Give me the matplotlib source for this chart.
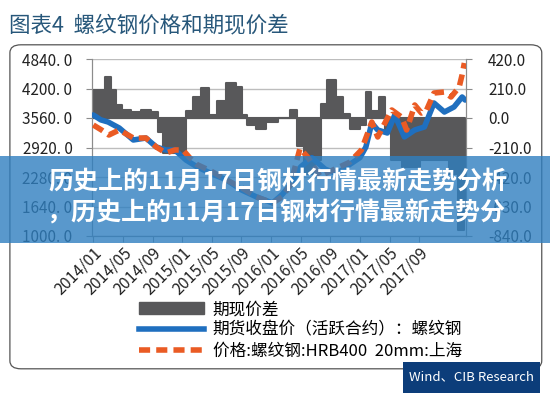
import matplotlib.pyplot as plt
from matplotlib.patches import Rectangle, FancyBboxPatch, Patch
from matplotlib.lines import Line2D

plt.rcParams['font.family'] = ['Noto Sans CJK SC', 'DejaVu Sans']

# x positions are months since 2014/01
tick_labels = ['2014/01', '2014/05', '2014/09', '2015/01', '2015/05', '2015/09',
               '2016/01', '2016/05', '2016/09', '2017/01', '2017/05', '2017/09']

# 期现价差 (right axis)
spread_m = [0, 1.1, 2.1, 2.7, 3.4, 4.4, 5.8, 7.1, 8.5, 8.9, 9.8, 11.8, 13.2, 13.8, 15.2,
            16.1, 17.4, 18.5, 19.9, 20.3, 21.2, 22.6, 23.9, 25.9, 27.2, 27.7, 29.3, 30.6,
            31.0, 32.2, 33.3, 34.0, 35.3, 36.6, 37.0, 38.0, 39.1, 39.7, 40.7, 42.7, 45.4,
            47.4, 48.7, 49.8, 50.2]
spread_v = [199, 200, 292, 200, 92, 60, 40, 60, 40, -100, -250, -250, 50, 150, 213,
            20, 120, 250, 220, 20, -50, -80, -30, 0, 57, -200, -400, -300,
            100, 270, 150, 30, -80, -50, 185, 50, 150, -100, -300, -350, -300,
            -300, -400, -800, -700]

# 期货收盘价(活跃合约):螺纹钢 (left axis)
fut_m = [0, 1, 2, 3.5, 5.4, 7.1, 8.5, 9.8, 11, 12.5, 14, 16, 18, 20, 22, 24.2, 25.5,
         26.6, 28, 29.5, 31.3, 32.9, 34.6, 36, 36.8, 37.6, 38.4, 39.7, 40.7, 42, 43.4,
         44.7, 46, 47.4, 48.7, 49.8, 50.2]
fut_v = [3625, 3520, 3473, 3343, 3083, 3126, 2931, 2866, 2866, 2650, 2500, 2350, 2215,
         2000, 1850, 1716, 1900, 2107, 2500, 2700, 2450, 2350, 2550, 2700, 2931, 3452,
         3300, 3235, 3625, 3148, 3300, 3365, 3885, 3690, 3799, 4016, 3950]

# 价格:螺纹钢:HRB400 20mm:上海 (left axis)
spot_m = [0, 1.1, 2.1, 3.5, 5.4, 7.1, 8.5, 9.8, 11, 12.1, 13, 14, 16, 18, 20, 22, 24.2,
          25.5, 26.6, 27.9, 29, 30.6, 32.6, 34.6, 36.2, 37.6, 38.4, 39.2, 40.3, 41.6,
          42.3, 43.4, 44.3, 45, 46, 47.4, 48.3, 49.4, 49.8, 50.1]
spot_v = [3408, 3300, 3191, 3300, 3126, 3126, 2931, 2800, 2866, 2866, 2700, 2550, 2400,
          2215, 2050, 1850, 1716, 1850, 2107, 2900, 2700, 2300, 2450, 2600, 2866, 3473,
          3148, 3400, 3734, 3582, 3300, 3842, 3668, 3734, 4102, 4124, 4016, 4233, 4500,
          4753]

left_ticks = [1000, 1640, 2280, 2920, 3560, 4200, 4840]
right_ticks = [-840, -630, -420, -210, 0, 210, 420]

fig = plt.figure(figsize=(5.5, 4), dpi=100)

# frame around the chart
frame = FancyBboxPatch((0.018, 0.078), 0.967, 0.81, boxstyle='round,pad=0,rounding_size=0.02',
                       transform=fig.transFigure, facecolor='none', edgecolor='#555555',
                       lw=0.9, zorder=-1)
fig.patches.append(frame)

fig.text(0.016, 0.937, '图表4  螺纹钢价格和期现价差', fontsize=15.5, color='#27577a',
         va='center', ha='left')

ax = fig.add_axes([0.167, 0.41, 0.68, 0.4425])
ax2 = ax.twinx()
ax.patch.set_alpha(0)

ax.fill_between(spread_m, 0, spread_v, step='mid', color='#58585a', lw=1.5,
                edgecolor='#58585a', zorder=2)
ax.set_ylim(-840, 420)
ax.set_yticks(right_ticks)
ax.set_yticklabels(['%.1f' % v for v in right_ticks])
ax.yaxis.tick_right()
ax.grid(axis='y', color='#bdbdbd', lw=1)
ax.set_axisbelow(True)

ax2.plot(fut_m, fut_v, color='#1f6fbf', lw=4, solid_capstyle='round', zorder=3)
ax2.plot(spot_m, spot_v, color='#ea5b24', lw=4, ls=(0, (2, 1.1)), zorder=4)
ax2.set_ylim(1000, 4840)
ax2.set_yticks(left_ticks)
ax2.set_yticklabels(['%d. 0' % v for v in left_ticks])
ax2.yaxis.tick_left()

ax.set_xlim(-0.2, 50.3)
ax.set_xticks(range(0, 48, 4))
ax.set_xticklabels(tick_labels, rotation=45, ha='right', rotation_mode='anchor')

for a in (ax, ax2):
    for s in a.spines.values():
        s.set_color('#8c8c8c')
    a.spines['top'].set_visible(False)
    a.tick_params(colors='#8c8c8c', labelcolor='#222222', labelsize=11, length=4)
ax.tick_params(axis='x', labelsize=11.5, pad=2)
ax.tick_params(axis='y', pad=12)
ax2.tick_params(axis='y', pad=10)

handles = [Patch(color='#58585a'),
           Line2D([], [], color='#1f6fbf', lw=4),
           Line2D([], [], color='#ea5b24', lw=4, ls=(0, (2, 1.1)))]
labels = ['期现价差', '期货收盘价（活跃合约）：螺纹钢', '价格:螺纹钢:HRB400  20mm:上海']
fig.legend(handles, labels, loc='upper left', bbox_to_anchor=(0.238, 0.268),
           frameon=False, fontsize=12, handlelength=3.9, handleheight=0.7,
           labelspacing=0.22, handletextpad=0.5, borderpad=0)

# source tag
fig.patches.append(Rectangle((0.733, 0.018), 0.249, 0.078, transform=fig.transFigure,
                             facecolor='#0c3d7a', edgecolor='none', zorder=5))
fig.text(0.857, 0.057, 'Wind、CIB Research', color='white', fontsize=9.5,
         ha='center', va='center', zorder=6)

# overlay banner
fig.patches.append(Rectangle((0, 0.3925), 1, 0.2175, transform=fig.transFigure,
                             facecolor='#2f7fc0', alpha=0.8, edgecolor='none', zorder=10))
fig.text(0.505, 0.543, '历史上的11月17日钢材行情最新走势分析', color='white', fontsize=18,
         fontweight='bold', ha='center', va='center', zorder=11)
fig.text(0.503, 0.468, '，历史上的11月17日钢材行情最新走势分', color='white', fontsize=18,
         fontweight='bold', ha='center', va='center', zorder=11)

fig.savefig('out.png', dpi=100)
